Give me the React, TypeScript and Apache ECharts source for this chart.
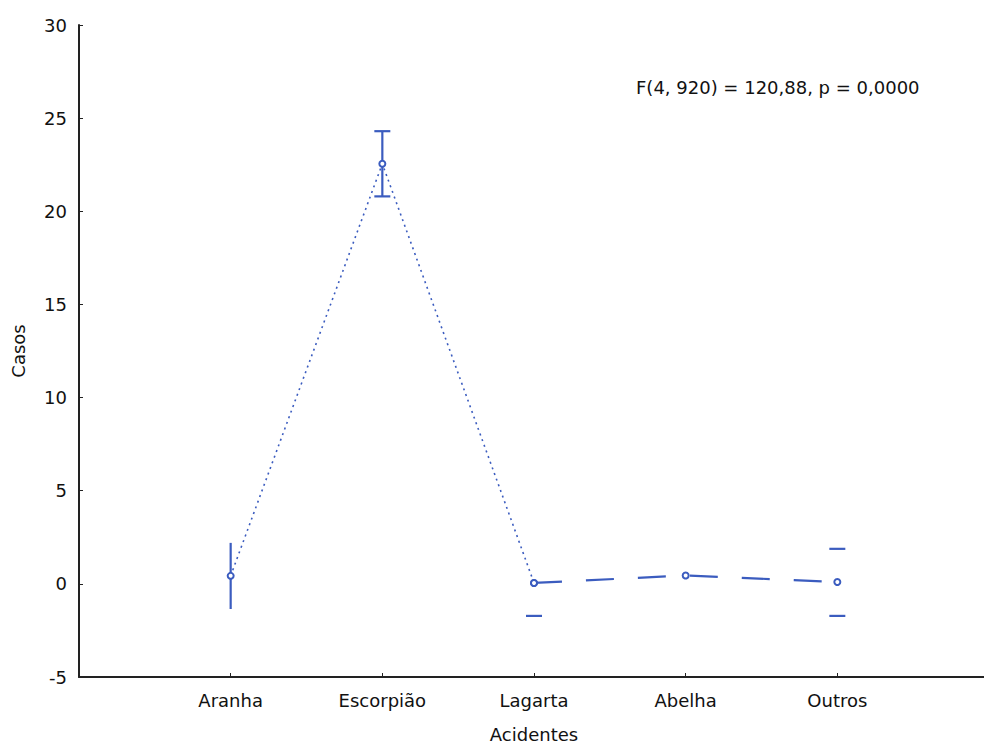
import React, { useEffect, useRef } from "react";
import * as echarts from "echarts";

const categories = ["Aranha", "Escorpião", "Lagarta", "Abelha", "Outros"];
const means = [0.43, 22.55, 0.05, 0.45, 0.1];
const ciLower: (number | null)[] = [-1.35, 20.8, -1.72, null, -1.72];
const ciUpper: (number | null)[] = [2.2, 24.3, 1.82, null, 1.88];
const yTicks = [-5, 0, 5, 10, 15, 20, 25, 30];
const annotation = "F(4, 920) = 120,88, p = 0,0000";

const BLUE = "#3b5cbf";
const FONT = "DejaVu Sans";

// which parts of each error bar are visible in the picture
const barParts = [
  { line: true, top: false, bottom: false },
  { line: true, top: true, bottom: true },
  { line: false, top: false, bottom: true },
  { line: false, top: false, bottom: false },
  { line: false, top: true, bottom: true },
];

export default function App() {
  const ref = useRef<HTMLDivElement>(null);
  useEffect(() => {
    if (!ref.current) return;
    const chart = echarts.init(ref.current, null, { renderer: "svg" });
    const pos = categories.map((_, i) => i + 1);
    const dotted = [0, 1, 2].map((i) => [pos[i], means[i]]);
    const dashed = [2, 3, 4].map((i) => [pos[i], means[i]]);
    const errData = categories
      .map((_, i) => [pos[i], ciLower[i], ciUpper[i], i])
      .filter((d) => d[1] !== null && d[2] !== null);

    chart.setOption({
      animation: false,
      grid: { left: 79, right: -5, top: 25, bottom: 67, outerBoundsMode: "none", containLabel: false },
      xAxis: {
        type: "value",
        min: 0,
        max: 6,
        interval: 1,
        name: "Acidentes",
        nameLocation: "middle",
        nameGap: 48,
        nameTextStyle: { fontFamily: FONT, fontSize: 18, color: "#111" },
        axisLine: { onZero: false, lineStyle: { color: "#222", width: 2 } },
        axisTick: { show: true, inside: true, length: 4, lineStyle: { color: "#222" } },
        axisLabel: {
          fontFamily: FONT,
          fontSize: 18,
          color: "#111",
          margin: 14,
          formatter: (v: number) => categories[v - 1] ?? "",
        },
        splitLine: { show: false },
      },
      yAxis: {
        type: "value",
        min: -5,
        max: 30,
        interval: 5,
        name: "Casos",
        nameLocation: "middle",
        nameGap: 52,
        nameTextStyle: { fontFamily: FONT, fontSize: 18, color: "#111" },
        axisLine: { show: true, onZero: false, lineStyle: { color: "#222", width: 2 } },
        axisTick: { show: true, inside: true, length: 4, lineStyle: { color: "#222" } },
        axisLabel: {
          fontFamily: FONT,
          fontSize: 18,
          color: "#111",
          margin: 12,
          formatter: (v: number) => (yTicks.includes(v) ? String(v) : ""),
        },
        splitLine: { show: false },
      },
      graphic: [
        {
          type: "text",
          left: 636,
          top: 78,
          style: { text: annotation, fontFamily: FONT, fontSize: 18, fill: "#111" },
        },
      ],
      series: [
        {
          type: "line",
          data: dotted,
          symbol: "emptyCircle",
          symbolSize: 6,
          itemStyle: { color: BLUE, borderWidth: 1 },
          lineStyle: { color: BLUE, width: 1.6, type: [2, 4] },
        },
        {
          type: "line",
          data: dashed,
          symbol: "emptyCircle",
          symbolSize: 6,
          itemStyle: { color: BLUE, borderWidth: 1 },
          lineStyle: { color: BLUE, width: 2.2, type: [28, 24] },
        },
        {
          type: "custom",
          data: errData,
          renderItem: (params: any, api: any) => {
            const x = api.value(0);
            const lo = api.coord([x, api.value(1)]);
            const hi = api.coord([x, api.value(2)]);
            const parts = barParts[api.value(3)];
            const half = 8;
            const style = { stroke: BLUE, lineWidth: 2.2 };
            const children: any[] = [];
            if (parts.line)
              children.push({ type: "line", shape: { x1: lo[0], y1: lo[1], x2: hi[0], y2: hi[1] }, style });
            if (parts.top)
              children.push({ type: "line", shape: { x1: hi[0] - half, y1: hi[1], x2: hi[0] + half, y2: hi[1] }, style });
            if (parts.bottom)
              children.push({ type: "line", shape: { x1: lo[0] - half, y1: lo[1], x2: lo[0] + half, y2: lo[1] }, style });
            return { type: "group", children };
          },
        },
      ],
    });
    return () => chart.dispose();
  }, []);
  return (
    <div
      ref={ref}
      style={{ position: "fixed", left: 0, top: 0, width: 984, height: 744, background: "#fff" }}
    />
  );
}
